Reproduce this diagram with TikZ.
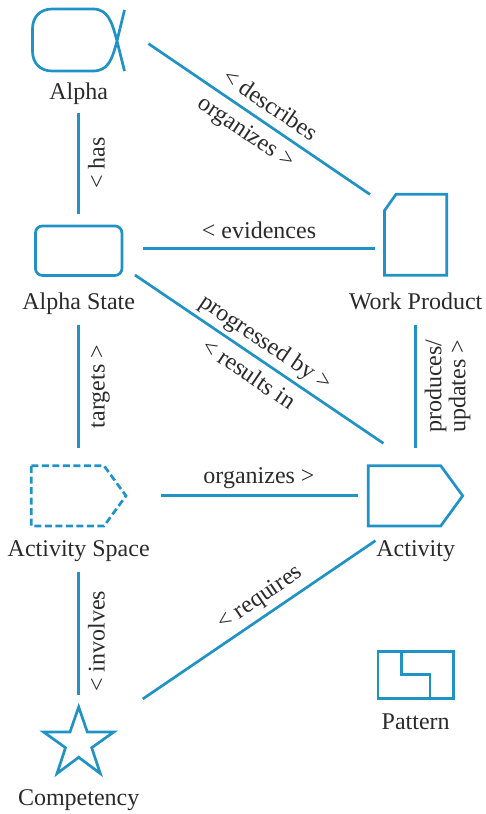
\documentclass[tikz,border=0pt]{standalone}
\usepackage{fontspec}
\setmainfont{Liberation Serif}
\definecolor{essenceblue}{HTML}{2192C6}
\definecolor{essencetext}{HTML}{2A2A2A}
\tikzset{
    iconline/.style={draw=essenceblue,line width=2.7pt,line join=miter},
    linkline/.style={draw=essenceblue,line width=2.7pt},
    iconbox/.style={inner sep=0pt,outer sep=0pt},
    namelabel/.style={inner sep=0pt,outer sep=0pt,text=essencetext,font=\fontsize{24}{24}\selectfont,text height=17pt,text depth=5.5pt},
    linklabel/.style={namelabel},
    slopelabel/.style={namelabel,sloped}
}
\begin{document}
\begin{tikzpicture}[x=1pt,y=-1pt]
    \useasboundingbox (0,0) rectangle (485,814);

    % icons
    \node[iconbox,minimum width=92pt,minimum height=62pt] (alpha) at (78.7,40) {};
    \node[iconbox,iconline,rounded corners=7pt,minimum width=86.5pt,minimum height=49.5pt] (state) at (78.7,250.7) {};
    \node[iconbox,minimum width=62.6pt,minimum height=81pt] (product) at (415.7,234.7) {};
    \node[iconbox,minimum width=95pt,minimum height=60.3pt] (space) at (78.7,495.8) {};
    \node[iconbox,minimum width=94.8pt,minimum height=60.3pt] (activity) at (415.7,495.8) {};
    \node[iconbox,minimum width=74pt,minimum height=70pt] (competency) at (78.7,740) {};
    \node[iconbox,iconline,minimum width=75.8pt,minimum height=47pt] (pattern) at (415.8,674.7) {};

    \draw[iconline] (124.5,71) -- (117,41) .. controls (112,22) and (108,9) .. (93,9) -- (52,9)
        .. controls (40,9) and (32.5,17) .. (32.5,29) -- (32.5,51)
        .. controls (32.5,63) and (40,71) .. (52,71) -- (93,71)
        .. controls (108,71) and (112,60) .. (117,41) -- (124.5,10);
    \draw[iconline] (384.4,210.7) -- (396,194.3) -- (446.7,194.3) -- (446.7,275.3) -- (384.4,275.3) -- cycle;
    \draw[iconline,dash pattern=on 7pt off 3.5pt] (31.3,465.7) -- (104,465.7) -- (126,495.8) -- (104,526) -- (31.3,526) -- cycle;
    \draw[iconline] (368.3,465.7) -- (440.7,465.7) -- (462.7,495.8) -- (440.7,526) -- (368.3,526) -- cycle;
    \draw[iconline] (78.7,707) -- (87.3,732) -- (113.8,732) -- (91.7,747.7) -- (100.3,773.5) -- (78.7,757.3)
        -- (57,773.5) -- (65.5,747.7) -- (43.6,732) -- (70,732) -- cycle;
    \draw[iconline] (401.3,651) -- (401.3,674.7) -- (430,674.7) -- (430,698.3);

    % names
    \node[namelabel] (alphaname) at (78.7,94) {Alpha};
    \node[namelabel] (statename) at (78.7,304) {Alpha State};
    \node[namelabel] (productname) at (415.7,304) {Work Product};
    \node[namelabel] (spacename) at (78.7,551) {Activity Space};
    \node[namelabel] (activityname) at (415.7,551) {Activity};
    \node[namelabel] (competencyname) at (78.7,799.5) {Competency};
    \node[namelabel] (patternname) at (415.7,724) {Pattern};

    % connectors, labels sit on them
    \draw[linkline] ([yshift=12pt]state.north) -- ([yshift=-7.25pt]alphaname.south)
        node[linklabel,pos=.5,rotate=90,below=9pt] (haslabel) {< has};
    \draw[linkline] ([yshift=17.7pt]space.north) -- ([yshift=-9.75pt]statename.south)
        node[linklabel,pos=.5,rotate=90,below=9pt] (targetslabel) {targets >};
    \draw[linkline] ([yshift=9.7pt]competency.north) -- ([yshift=-10.05pt]spacename.south)
        node[linklabel,pos=.44,rotate=90,below=9pt] (involveslabel) {< involves};
    \draw[linkline] ([yshift=18pt]activity.north) -- ([yshift=-9.75pt]productname.south)
        node[inner sep=0pt,outer sep=0pt,text=essencetext,font=\fontsize{24}{24}\selectfont,align=center,pos=.5,rotate=90,below=9pt] (produceslabel) {produces/\\updates >};
    \draw[linkline] ([xshift=23.8pt,yshift=-3.7pt]alpha.east) -- ([xshift=-14.35pt,yshift=40.2pt]product.west)
        node[slopelabel,pos=.504,above=5pt] (describeslabel) {< describes}
        node[slopelabel,pos=.487,below=8pt] (organizeslabel) {organizes >};
    \draw[linkline] ([xshift=21pt,yshift=2.4pt]state.east) -- ([xshift=-9.35pt,yshift=-13.6pt]product.west)
        node[linklabel,pos=.5,above=4.5pt] (evidenceslabel) {< evidences};
    \draw[linkline] ([xshift=13pt,yshift=-24.3pt]state.east) -- ([xshift=15.1pt,yshift=52.5pt]activity.west)
        node[slopelabel,pos=.487,above=5pt] (progressedlabel) {progressed by >}
        node[slopelabel,pos=.5,below=8.5pt] (resultslabel) {< results in};
    \draw[linkline] ([xshift=34.3pt,yshift=.5pt]space.east) -- ([xshift=-10.8pt,yshift=.5pt]activity.west)
        node[linklabel,pos=.5,above=6.5pt] (organizeslabeltwo) {organizes >};
    \draw[linkline] ([xshift=27pt,yshift=41pt]competency.east) -- ([xshift=7.2pt,yshift=-14.7pt]activity.south west)
        node[slopelabel,pos=.547,above=6pt] (requireslabel) {< requires};
\end{tikzpicture}
\end{document}
